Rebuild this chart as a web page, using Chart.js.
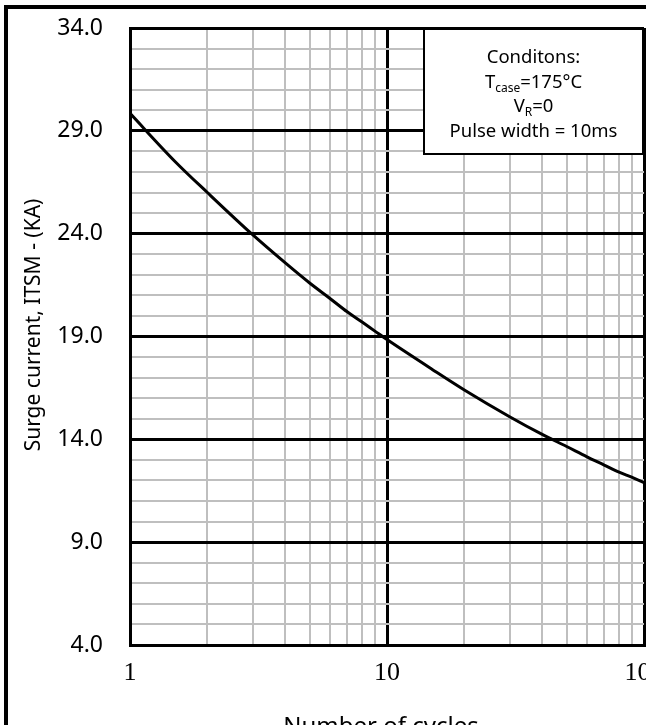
<!DOCTYPE html>
<html>
<head>
<meta charset="utf-8">
<script src="https://cdn.jsdelivr.net/npm/chart.js@4.4.1/dist/chart.umd.min.js"></script>
<style>
body { margin: 0; background: #fff; }
canvas { display: block; }
</style>
</head>
<body>
<canvas id="myChart" width="646" height="725"></canvas>
<script>
// values
const cycles = [1, 1.5, 2, 3, 4, 5, 6, 7, 8, 9, 10, 15, 20, 30, 40, 50, 60, 70, 80, 90, 100];
const surge = [29.85, 27.5, 26.0, 23.95, 22.6, 21.6, 20.85, 20.2, 19.7, 19.25, 18.85, 17.4, 16.4, 15.1, 14.25, 13.65, 13.15, 12.75, 12.4, 12.15, 11.9];

const xGridValues = [1, 2, 3, 4, 5, 6, 7, 8, 9, 10, 20, 30, 40, 50, 60, 70, 80, 90, 100];
const xLabelValues = [1, 10, 100];
const yMajorValues = [4, 9, 14, 19, 24, 29, 34];

const xTitle = 'Number of cycles';
const yTitle = 'Surge current, ITSM - (KA)';
const conditionLines = [
    [['Conditons:', false]],
    [['T', false], ['case', true], ['=175°C', false]],
    [['V', false], ['R', true], ['=0', false]],
    [['Pulse width = 10ms', false]]
];

const sansFont = '"Noto Sans", "Open Sans", sans-serif';

function makePoints() {
    let points = [];
    for (let i = 0; i < cycles.length; i += 1) {
        points.push({ x: cycles[i], y: surge[i] });
    }
    return points;
}

function drawParts(c, parts, cx, y) {
    const big = '18.5px ' + sansFont;
    const small = '12px ' + sansFont;
    let total = 0;
    for (const p of parts) {
        c.font = p[1] ? small : big;
        total += c.measureText(p[0]).width;
    }
    let x = cx - total / 2;
    c.textAlign = 'left';
    c.textBaseline = 'middle';
    for (const p of parts) {
        c.font = p[1] ? small : big;
        c.fillText(p[0], x, p[1] ? y + 6 : y);
        x += c.measureText(p[0]).width;
    }
}

const extrasPlugin = {
    id: 'extras',
    beforeDraw(chart) {
        const c = chart.ctx;
        c.save();
        c.fillStyle = '#fff';
        c.fillRect(0, 0, chart.width, chart.height);
        c.restore();
    },
    afterDraw(chart) {
        const c = chart.ctx;
        const area = chart.chartArea;
        c.save();

        // outer frame (right and bottom sides fall outside the picture)
        c.strokeStyle = '#000';
        c.lineWidth = 4;
        c.beginPath();
        c.moveTo(6, 760);
        c.lineTo(6, 7);
        c.lineTo(700, 7);
        c.stroke();

        // axis titles
        c.fillStyle = '#000';
        c.textAlign = 'center';
        c.textBaseline = 'middle';
        c.font = '21px ' + sansFont;
        c.save();
        c.translate(34, 325);
        c.rotate(-Math.PI / 2);
        c.fillText(yTitle, 0, 0);
        c.restore();

        c.font = '24px ' + sansFont;
        c.textBaseline = 'top';
        c.fillText(xTitle, 381, 715);

        // conditions box
        const bx = area.right - 220;
        const by = area.top + 1;
        const bw = 219;
        const bh = 125;
        c.fillStyle = '#fff';
        c.fillRect(bx, by, bw, bh);
        c.strokeStyle = '#000';
        c.lineWidth = 2;
        c.strokeRect(bx, by, bw, bh);
        c.fillStyle = '#000';
        for (let i = 0; i < conditionLines.length; i += 1) {
            drawParts(c, conditionLines[i], bx + bw / 2, by + 29 + i * 24.5);
        }
        c.restore();
    }
};

const ctx = document.getElementById('myChart').getContext('2d');
const myChart = new Chart(ctx, {
    type: 'line',
    data: {
        datasets: [{
            label: 'ITSM',
            data: makePoints(),
            borderColor: '#000',
            borderWidth: 3,
            pointRadius: 0,
            cubicInterpolationMode: 'monotone',
            fill: false
        }]
    },
    options: {
        responsive: false,
        devicePixelRatio: 1,
        animation: false,
        layout: { padding: { top: 28, right: 2, left: 0, bottom: 0 } },
        plugins: {
            legend: { display: false },
            tooltip: { enabled: false }
        },
        scales: {
            x: {
                type: 'logarithmic',
                min: 1,
                max: 100,
                afterBuildTicks: function (scale) {
                    scale.ticks = xGridValues.map(function (v) { return { value: v }; });
                },
                afterFit: function (scale) {
                    scale.height = 80;
                    scale.paddingLeft = 0;
                    scale.paddingRight = 0;
                },
                ticks: {
                    autoSkip: false,
                    maxRotation: 0,
                    padding: 13,
                    color: '#000',
                    font: { family: '"Liberation Serif", "DejaVu Serif", serif', size: 26 },
                    callback: function (value) {
                        return xLabelValues.includes(value) ? String(value) : '';
                    }
                },
                grid: {
                    drawTicks: false,
                    color: function (c) {
                        return xLabelValues.includes(c.tick.value) ? '#000' : '#bfbfbf';
                    },
                    lineWidth: function (c) {
                        return xLabelValues.includes(c.tick.value) ? 3 : 2;
                    }
                },
                border: { color: '#000', width: 3 }
            },
            y: {
                type: 'linear',
                min: 4,
                max: 34,
                afterFit: function (scale) {
                    scale.width = 130;
                    scale.paddingTop = 0;
                    scale.paddingBottom = 0;
                },
                ticks: {
                    stepSize: 1,
                    autoSkip: false,
                    padding: 27,
                    color: '#000',
                    font: { family: sansFont, size: 23 },
                    callback: function (value) {
                        return yMajorValues.includes(value) ? value.toFixed(1) : '';
                    }
                },
                grid: {
                    drawTicks: false,
                    color: function (c) {
                        return yMajorValues.includes(c.tick.value) ? '#000' : '#bfbfbf';
                    },
                    lineWidth: function (c) {
                        return yMajorValues.includes(c.tick.value) ? 3 : 2;
                    }
                },
                border: { color: '#000', width: 3 }
            }
        }
    },
    plugins: [extrasPlugin]
});
</script>
</body>
</html>
